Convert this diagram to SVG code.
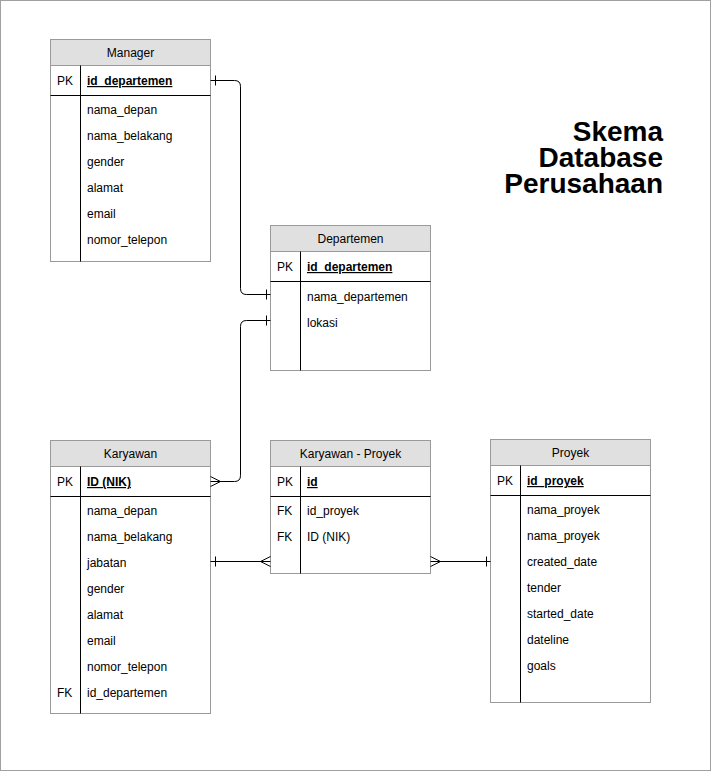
<svg xmlns="http://www.w3.org/2000/svg" width="711" height="771" viewBox="0 0 711 771">
<style>
text{font-family:"Liberation Sans",Arial,Helvetica,sans-serif;font-size:12px;fill:#000}
.box{fill:#fff;stroke:#9a9a9a;stroke-width:1}
.hdr{fill:#e0e0e0;stroke:#9a9a9a;stroke-width:1}
.div{stroke:#000;stroke-width:1;fill:none}
.pk{font-weight:bold;text-decoration:underline}
.ttl{text-anchor:middle}
.conn{fill:none;stroke:#000;stroke-width:1}
.title{font-size:28px;font-weight:bold;text-anchor:end}
</style>
<rect x="0.5" y="0.5" width="710" height="770" fill="#fff" stroke="#a0a0a0"/>

<g id="manager">
<rect class="box" x="50.5" y="39.5" width="160" height="222"/>
<rect class="hdr" x="50.5" y="39.5" width="160" height="26"/>
<text class="ttl" x="130.5" y="57">Manager</text>
<line class="div" x1="50.5" y1="95.5" x2="210.5" y2="95.5"/>
<line class="div" x1="80.5" y1="65.5" x2="80.5" y2="261.5"/>
<text x="57" y="85">PK</text>
<text class="pk" x="87" y="85">id_departemen</text>
<text x="87" y="114">nama_depan</text>
<text x="87" y="140">nama_belakang</text>
<text x="87" y="166">gender</text>
<text x="87" y="192">alamat</text>
<text x="87" y="218">email</text>
<text x="87" y="244">nomor_telepon</text>
</g>

<g id="departemen">
<rect class="box" x="270.5" y="225.5" width="160" height="145"/>
<rect class="hdr" x="270.5" y="225.5" width="160" height="26"/>
<text class="ttl" x="350.5" y="243">Departemen</text>
<line class="div" x1="270.5" y1="281.5" x2="430.5" y2="281.5"/>
<line class="div" x1="300.5" y1="251.5" x2="300.5" y2="370.5"/>
<text x="277" y="271">PK</text>
<text class="pk" x="307" y="271">id_departemen</text>
<text x="307" y="301">nama_departemen</text>
<text x="307" y="327">lokasi</text>
</g>

<g id="karyawan">
<rect class="box" x="50.5" y="440.5" width="160" height="273"/>
<rect class="hdr" x="50.5" y="440.5" width="160" height="26"/>
<text class="ttl" x="130.5" y="458">Karyawan</text>
<line class="div" x1="50.5" y1="496.5" x2="210.5" y2="496.5"/>
<line class="div" x1="80.5" y1="466.5" x2="80.5" y2="713.5"/>
<text x="57" y="486">PK</text>
<text class="pk" x="87" y="486">ID (NIK)</text>
<text x="87" y="515">nama_depan</text>
<text x="87" y="541">nama_belakang</text>
<text x="87" y="567">jabatan</text>
<text x="87" y="593">gender</text>
<text x="87" y="619">alamat</text>
<text x="87" y="645">email</text>
<text x="87" y="671">nomor_telepon</text>
<text x="57" y="697">FK</text>
<text x="87" y="697">id_departemen</text>
</g>

<g id="karyawan-proyek">
<rect class="box" x="270.5" y="440.5" width="160" height="133"/>
<rect class="hdr" x="270.5" y="440.5" width="160" height="26"/>
<text class="ttl" x="350.5" y="458">Karyawan - Proyek</text>
<line class="div" x1="270.5" y1="496.5" x2="430.5" y2="496.5"/>
<line class="div" x1="300.5" y1="466.5" x2="300.5" y2="573.5"/>
<text x="277" y="486">PK</text>
<text class="pk" x="307" y="486">id</text>
<text x="277" y="515">FK</text>
<text x="307" y="515">id_proyek</text>
<text x="277" y="541">FK</text>
<text x="307" y="541">ID (NIK)</text>
</g>

<g id="proyek">
<rect class="box" x="490.5" y="439.5" width="160" height="263"/>
<rect class="hdr" x="490.5" y="439.5" width="160" height="26"/>
<text class="ttl" x="570.5" y="457">Proyek</text>
<line class="div" x1="490.5" y1="495.5" x2="650.5" y2="495.5"/>
<line class="div" x1="520.5" y1="465.5" x2="520.5" y2="702.5"/>
<text x="497" y="485">PK</text>
<text class="pk" x="527" y="485">id_proyek</text>
<text x="527" y="514">nama_proyek</text>
<text x="527" y="540">nama_proyek</text>
<text x="527" y="566">created_date</text>
<text x="527" y="592">tender</text>
<text x="527" y="618">started_date</text>
<text x="527" y="644">dateline</text>
<text x="527" y="670">goals</text>
</g>

<g id="connectors">
<path class="conn" d="M210.5,80.5 H234.5 Q240.5,80.5 240.5,86.5 V288.5 Q240.5,294.5 246.5,294.5 H270.5"/>
<path class="conn" d="M215.5,75.5 V85.5 M266.5,289.5 V299.5"/>
<path class="conn" d="M270.5,320.5 H246.5 Q240.5,320.5 240.5,326.5 V475.5 Q240.5,481.5 234.5,481.5 H210.5"/>
<path class="conn" d="M266.5,315.5 V325.5 M210.5,476.5 L220.5,481.5 L210.5,486.5"/>
<path class="conn" d="M210.5,561.5 H270.5"/>
<path class="conn" d="M215.5,556.5 V566.5 M270.5,556.5 L260.5,561.5 L270.5,566.5"/>
<path class="conn" d="M430.5,561.5 H490.5"/>
<path class="conn" d="M430.5,556.5 L440.5,561.5 L430.5,566.5 M486.5,556.5 V566.5"/>
</g>

<g id="title">
<text class="title"><tspan x="663" y="141">Skema</tspan><tspan x="663" y="167">Database</tspan><tspan x="663" y="193">Perusahaan</tspan></text>
</g>
</svg>
